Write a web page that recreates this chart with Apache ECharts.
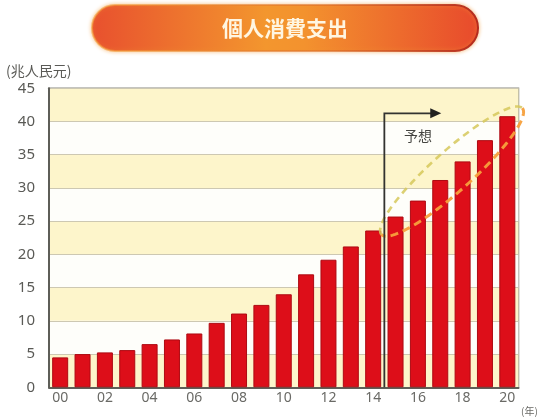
<!DOCTYPE html>
<html>
<head>
<meta charset="utf-8">
<script src="https://cdn.jsdelivr.net/npm/echarts@6/dist/echarts.min.js"></script>
<style>
  html, body { margin: 0; padding: 0; background: #ffffff; }
  #chart { width: 545px; height: 419px; }
</style>
</head>
<body>
<div id="chart"></div>
<script>
// Personal consumption spending, trillion yuan (2000-2020; 2015 onward is a forecast)
const years = ['00', '01', '02', '03', '04', '05', '06', '07', '08', '09', '10',
               '11', '12', '13', '14', '15', '16', '17', '18', '19', '20'];
const spending = [4.5, 5.0, 5.25, 5.6, 6.5, 7.2, 8.1, 9.7, 11.1, 12.4, 14.0,
                  17.0, 19.2, 21.2, 23.6, 25.7, 28.1, 31.2, 34.0, 37.2, 40.8];
const yTicks = [0, 5, 10, 15, 20, 25, 30, 35, 40, 45];
const forecastFrom = 15;   // index of the first forecast year

const titleText = '個人消費支出';
const unitText = '(兆人民元)';
const yearUnitText = '(年)';
const forecastText = '予想';

const numFont = '"Noto Sans", "DejaVu Sans", sans-serif';
const cjkFont = '"Noto Sans CJK JP", "Noto Sans CJK SC", sans-serif';

const chart = echarts.init(document.getElementById('chart'), null, { renderer: 'canvas' });

const grid = { left: 49, right: 26.5, top: 88.3, bottom: 31.7 };

chart.setOption({
  animation: false,
  backgroundColor: '#ffffff',
  grid: Object.assign({ show: true, borderColor: '#8a8a82', borderWidth: 1.5, backgroundColor: 'transparent' }, grid),
  xAxis: {
    type: 'category',
    data: years,
    axisLine: { show: true, lineStyle: { color: '#5e5e58', width: 2 } },
    axisTick: { show: false },
    axisLabel: {
      interval: 1,
      color: '#6a6a66',
      fontSize: 14,
      fontFamily: numFont,
      margin: 4
    }
  },
  yAxis: {
    type: 'value',
    min: yTicks[0],
    max: yTicks[yTicks.length - 1],
    interval: yTicks[1] - yTicks[0],
    axisLine: { show: true, lineStyle: { color: '#5e5e58', width: 2 } },
    axisTick: { show: false },
    axisLabel: { color: '#5a5a56', fontSize: 15, fontFamily: numFont, margin: 14 },
    splitLine: { show: true, lineStyle: { color: '#cdc8b2', width: 1.2 } },
    splitArea: { show: true, areaStyle: { color: ['#fdf5cb', '#fefefa'] } }
  },
  series: [{
    type: 'bar',
    data: spending,
    barWidth: 16,
    itemStyle: { color: '#dd0e19', borderColor: '#ad0a12', borderWidth: 1 },
    z: 2
  }]
});

// Annotations placed from the axes' own pixel conversion
const xPix = i => chart.convertToPixel({ xAxisIndex: 0 }, i);
const yPix = v => chart.convertToPixel({ yAxisIndex: 0 }, v);

const boundaryX = (xPix(forecastFrom - 1) + xPix(forecastFrom)) / 2;
const axisBottom = yPix(0);
const arrowY = grid.top + 25;
const arrowEnd = xPix(forecastFrom + 2);

// Dashed ellipse around the forecast bar tops
const last = spending.length - 1;
const L = [boundaryX - 3, yPix(spending[forecastFrom - 1]) + 4];
const R = [xPix(last) + 15, yPix(spending[last]) - 8];
const cx = (L[0] + R[0]) / 2, cy = (L[1] + R[1]) / 2;
const dx = R[0] - L[0], dy = R[1] - L[1];
const a = Math.hypot(dx, dy) / 2, b = 20;
const d = [dx / (2 * a), dy / (2 * a)];
const n = [-d[1], d[0]];
function arc(t0, t1) {
  const pts = [];
  const steps = 80;
  for (let k = 0; k <= steps; k++) {
    const t = t0 + (t1 - t0) * k / steps;
    const c = Math.cos(t) * a, s = Math.sin(t) * b;
    pts.push([cx + c * d[0] + s * n[0], cy + c * d[1] + s * n[1]]);
  }
  return pts;
}
// n points down-right here, so t in (PI, 2PI) is the upper-left arc
const upper = arc(Math.PI, 2 * Math.PI);
const lower = arc(0, Math.PI);

chart.setOption({
  graphic: [
    // title pill
    {
      type: 'rect',
      shape: { x: 92, y: 5, width: 386, height: 46, r: 23 },
      style: {
        fill: {
          type: 'linear', x: 0, y: 0, x2: 1, y2: 0,
          colorStops: [
            { offset: 0, color: '#e8502e' },
            { offset: 0.45, color: '#f3962e' },
            { offset: 0.55, color: '#f3922e' },
            { offset: 1, color: '#e84a2c' }
          ]
        },
        stroke: {
          type: 'linear', x: 0, y: 0, x2: 1, y2: 0,
          colorStops: [
            { offset: 0, color: 'rgba(245,160,60,0.6)' },
            { offset: 0.6, color: 'rgba(220,110,40,0.6)' },
            { offset: 1, color: '#b42a1e' }
          ]
        },
        lineWidth: 2,
        shadowBlur: 4,
        shadowColor: 'rgba(240,150,50,0.6)'
      },
      z: 10
    },
    {
      type: 'text',
      x: 285, y: 28,
      style: {
        text: titleText,
        fill: '#fff6e2',
        font: 'bold 21px ' + cjkFont,
        align: 'center',
        verticalAlign: 'middle',
        shadowBlur: 3,
        shadowColor: 'rgba(150,50,20,0.6)'
      },
      z: 11
    },
    // unit labels
    {
      type: 'text',
      x: 6, y: 71,
      style: { text: unitText, fill: '#5a5a56', font: '14px ' + cjkFont, verticalAlign: 'middle' },
      z: 10
    },
    {
      type: 'text',
      x: 521, y: 411,
      style: { text: yearUnitText, fill: '#6a6a66', font: '10px ' + cjkFont, verticalAlign: 'middle' },
      z: 10
    },
    // forecast arrow
    {
      type: 'polyline',
      shape: { points: [[boundaryX, axisBottom], [boundaryX, arrowY], [arrowEnd - 8, arrowY]] },
      style: { stroke: '#333330', lineWidth: 1.8, fill: null },
      z: 10
    },
    {
      type: 'polygon',
      shape: { points: [[arrowEnd - 10, arrowY - 5], [arrowEnd + 1, arrowY], [arrowEnd - 10, arrowY + 5]] },
      style: { fill: '#222220' },
      z: 10
    },
    {
      type: 'text',
      x: xPix(forecastFrom + 1), y: arrowY + 22,
      style: { text: forecastText, fill: '#444440', font: '14px ' + cjkFont, align: 'center', verticalAlign: 'middle' },
      z: 10
    },
    // dashed outline around the forecast trend
    {
      type: 'polyline',
      shape: { points: upper },
      style: { stroke: 'rgba(214,200,90,0.85)', lineWidth: 2.6, lineDash: [7, 5], fill: null },
      z: 9
    },
    {
      type: 'polyline',
      shape: { points: lower },
      style: { stroke: 'rgba(247,160,60,0.95)', lineWidth: 3, lineDash: [8, 5], fill: null },
      z: 9
    }
  ]
});
</script>
</body>
</html>
